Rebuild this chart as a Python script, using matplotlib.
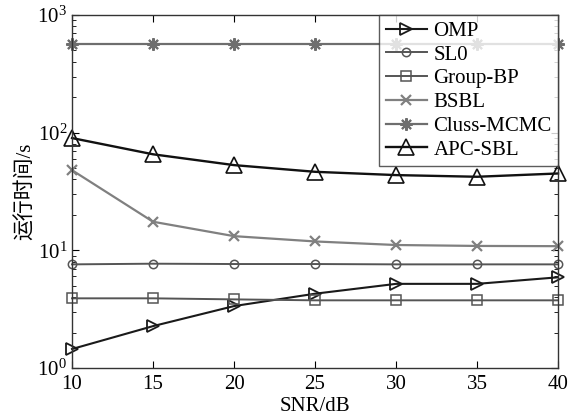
import matplotlib
matplotlib.use("Agg")
import matplotlib.pyplot as plt
from matplotlib.ticker import LogLocator, NullFormatter

snr = [10, 15, 20, 25, 30, 35, 40]
omp = [1.45, 2.27, 3.36, 4.28, 5.19, 5.19, 5.9]
sl0 = [7.6, 7.7, 7.65, 7.65, 7.6, 7.6, 7.6]
group_bp = [3.91, 3.91, 3.83, 3.76, 3.76, 3.76, 3.76]
bsbl = [48, 17.5, 13.2, 11.9, 11.1, 10.9, 10.85]
cluss = [566, 566, 566, 566, 566, 566, 566]
apc = [90, 65.5, 53, 46.5, 43.6, 42.2, 45]

plt.rcParams['font.family'] = ['Liberation Serif', 'Noto Sans CJK SC']
plt.rcParams['mathtext.fontset'] = 'stix'

fig = plt.figure(figsize=(5.81, 4.18), dpi=100)
ax = fig.add_axes([0.124, 0.1196, 0.8365, 0.8445])

kw = dict(clip_on=False)
ax.plot(snr, omp, color='#1a1a1a', marker='>', ms=9, mfc='none', mew=1.3, lw=1.5, label='OMP', **kw)
ax.plot(snr, sl0, color='#555555', marker='o', ms=6, mfc='none', mew=1.1, lw=1.4, label='SL0', **kw)
ax.plot(snr, group_bp, color='#555555', marker='s', ms=7, mfc='none', mew=1.1, lw=1.4, label='Group-BP', **kw)
ax.plot(snr, bsbl, color='#808080', marker='x', ms=7, mew=1.6, lw=1.6, label='BSBL', **kw)
ax.plot(snr, cluss, color='#6e6e6e', marker=(8, 2, 0), ms=9, mew=1.5, lw=1.6, label='Cluss-MCMC', **kw)
ax.plot(snr, apc, color='#111111', marker='^', ms=11, mfc='none', mew=1.2, lw=1.7, label='APC-SBL', **kw)

ax.set_yscale('log')
ax.set_xlim(10, 40)
ax.set_ylim(1, 1000)
ax.set_xticks(snr)
ax.yaxis.set_minor_locator(LogLocator(base=10, subs=range(2, 10)))
ax.yaxis.set_minor_formatter(NullFormatter())
ax.tick_params(which='both', direction='in', top=True, right=True, labelsize=15)
ax.tick_params(axis='x', pad=5)
ax.tick_params(which='major', length=5)
ax.tick_params(which='minor', length=3)
for s in ax.spines.values():
    s.set_linewidth(1.0)
    s.set_color('#333333')

ax.set_xlabel('SNR/dB', fontsize=15, labelpad=2)
ax.set_ylabel('运行时间/s', fontsize=15, labelpad=1)

leg = ax.legend(loc='upper right', fontsize=15, frameon=True, fancybox=False,
                edgecolor='#333333', borderaxespad=0, handlelength=2.0,
                labelspacing=0.2, borderpad=0.3, handletextpad=0.3)
leg.get_frame().set_linewidth(1.0)
leg.set_zorder(10)

fig.savefig('out.png', dpi=100)
